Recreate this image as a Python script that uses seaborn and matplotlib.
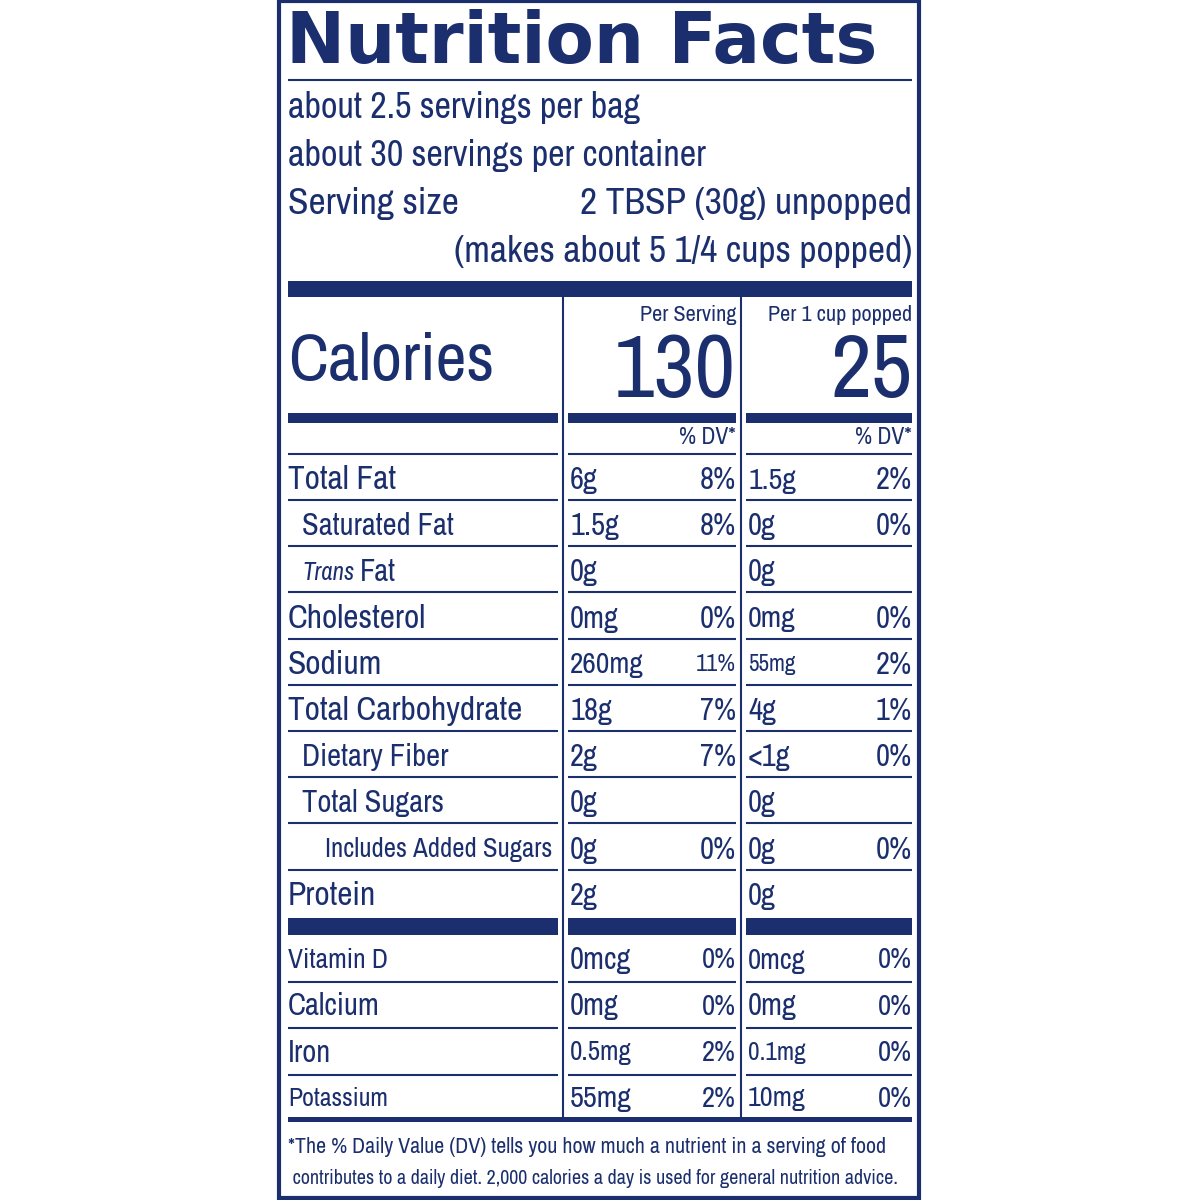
import matplotlib

matplotlib.use("Agg")
import matplotlib.pyplot as plt
import seaborn as sns
from matplotlib import font_manager

sns.set_style("white")

# look for a condensed family; fall back to DejaVu Sans with width fitting
narrow = None
for f in font_manager.fontManager.ttflist:
    if "Narrow" in f.name or "Condensed" in f.name:
        narrow = f.name
        break
NARROW = [narrow, "DejaVu Sans"] if narrow else ["DejaVu Sans"]
plt.rcParams["font.family"] = NARROW
NAVY = "#1b2f6e"

servings = ["about 2.5 servings per bag", "about 30 servings per container"]
serving_size = "2 TBSP (30g) unpopped"
makes = "(makes about 5 1/4 cups popped)"
col_heads = ["Per Serving", "Per 1 cup popped"]
calories = ["130", "25"]

nutrients = ["Total Fat", "Saturated Fat", "Trans Fat", "Cholesterol", "Sodium",
             "Total Carbohydrate", "Dietary Fiber", "Total Sugars",
             "Includes Added Sugars", "Protein"]
indent = [0, 1, 1, 0, 0, 0, 1, 1, 2, 0]
amt_serv = ["6g", "1.5g", "0g", "0mg", "260mg", "18g", "2g", "0g", "0g", "2g"]
dv_serv = ["8%", "8%", "", "0%", "11%", "7%", "7%", "", "0%", ""]
amt_cup = ["1.5g", "0g", "0g", "0mg", "55mg", "4g", "<1g", "0g", "0g", "0g"]
dv_cup = ["2%", "0%", "", "0%", "2%", "1%", "0%", "", "0%", ""]

vitamins = ["Vitamin D", "Calcium", "Iron", "Potassium"]
vit_serv = ["0mcg", "0mg", "0.5mg", "55mg"]
vit_serv_dv = ["0%", "0%", "2%", "2%"]
vit_cup = ["0mcg", "0mg", "0.1mg", "10mg"]
vit_cup_dv = ["0%", "0%", "0%", "0%"]

footnote = ["*The % Daily Value (DV) tells you how much a nutrient in a serving of food",
            " contributes to a daily diet. 2,000 calories a day is used for general nutrition advice."]

fig = plt.figure(figsize=(12, 12), dpi=100)
ax = fig.add_axes([0, 0, 1, 1])
ax.set_xlim(0, 1200)
ax.set_ylim(1200, 0)
ax.axis("off")
renderer = fig.canvas.get_renderer()

L, R = 288, 912
C1L, C1R, C2L, C2R = 568, 736, 746, 912
LABR = 558


def txt(x, y, s, size, bold=False, ha="left", family=None, italic=False, maxw=None):
    t = ax.text(x, y, s, fontsize=size, color=NAVY, ha=ha, va="center",
                fontweight="bold" if bold else "normal", family=family or NARROW,
                style="italic" if italic else "normal")
    if maxw:
        w = t.get_window_extent(renderer).width
        if w > maxw:
            t.set_fontsize(size * maxw / w)
    return t


# border
ax.add_patch(plt.Rectangle((279, 1), 640, 1197, fill=False, ec=NAVY, lw=3))
txt(L - 2, 44, "Nutrition Facts", 58, bold=True, family=["DejaVu Sans"], maxw=592)
ax.hlines(80, L, R, color=NAVY, lw=1.5)
txt(L, 108, servings[0], 26, maxw=378)
txt(L, 155, servings[1], 26, maxw=448)
txt(L, 204, "Serving size", 27, bold=True, maxw=190)
txt(R, 204, serving_size, 27, bold=True, ha="right", maxw=366)
txt(R, 252, makes, 27, bold=True, ha="right", maxw=520)
ax.fill_between([L, R], 281, 297, color=NAVY, lw=0)

ax.vlines([563, 741], 297, 1118, color=NAVY, lw=1.5)

txt(L, 362, "Calories", 50, bold=True, maxw=206)
txt(C1R, 315, col_heads[0], 16, bold=True, ha="right", maxw=110)
txt(C2R, 315, col_heads[1], 16, bold=True, ha="right", maxw=156)
txt(C1R, 372, calories[0], 66, bold=True, ha="right", maxw=122)
txt(C2R, 372, calories[1], 66, bold=True, ha="right", maxw=82)
for a, b in [(L, LABR), (C1L, C1R), (C2L, C2R)]:
    ax.fill_between([a, b], 413, 423, color=NAVY, lw=0)
txt(C1R, 438, "% DV*", 17, bold=True, ha="right", maxw=62)
txt(C2R, 438, "% DV*", 17, bold=True, ha="right", maxw=62)


def row_line(y, lw=1.5):
    for a, b in [(L, LABR), (C1L, C1R), (C2L, C2R)]:
        ax.hlines(y, a, b, color=NAVY, lw=lw)


row_line(454)
y0, dy = 480, 46.2
for i, name in enumerate(nutrients):
    y = y0 + i * dy
    x = L + [0, 14, 37][indent[i]]
    bold = indent[i] == 0
    if name == "Trans Fat":
        t = txt(x, y, "Trans", 22, italic=True, maxw=52)
        w = t.get_window_extent(renderer).width
        txt(x + w + 6, y, "Fat", 22, maxw=36)
    else:
        txt(x, y, name, 24 if bold else 22, bold=bold, maxw=LABR - x - 6)
    txt(C1L + 2, y, amt_serv[i], 22, maxw=74)
    txt(C1R, y, dv_serv[i], 22, bold=True, ha="right", maxw=40)
    txt(C2L + 2, y, amt_cup[i], 22, maxw=48)
    txt(C2R, y, dv_cup[i], 22, bold=True, ha="right", maxw=40)
    if i < len(nutrients) - 1:
        row_line(y + 20)
for a, b in [(L, LABR), (C1L, C1R), (C2L, C2R)]:
    ax.fill_between([a, b], 918, 935, color=NAVY, lw=0)

v0 = 960
for i, name in enumerate(vitamins):
    y = v0 + i * 46.3
    txt(L, y, name, 22, maxw=100)
    txt(C1L + 2, y, vit_serv[i], 22, maxw=62)
    txt(C1R, y, vit_serv_dv[i], 22, ha="right", maxw=34)
    txt(C2L + 2, y, vit_cup[i], 22, maxw=58)
    txt(C2R, y, vit_cup_dv[i], 22, ha="right", maxw=34)
    if i < len(vitamins) - 1:
        row_line(y + 22)
ax.fill_between([L, R], 1117, 1122, color=NAVY, lw=0)
txt(L, 1147, footnote[0], 17, maxw=596)
txt(L, 1178, footnote[1], 17, maxw=608)

fig.savefig("out.png", dpi=100, facecolor="white")
